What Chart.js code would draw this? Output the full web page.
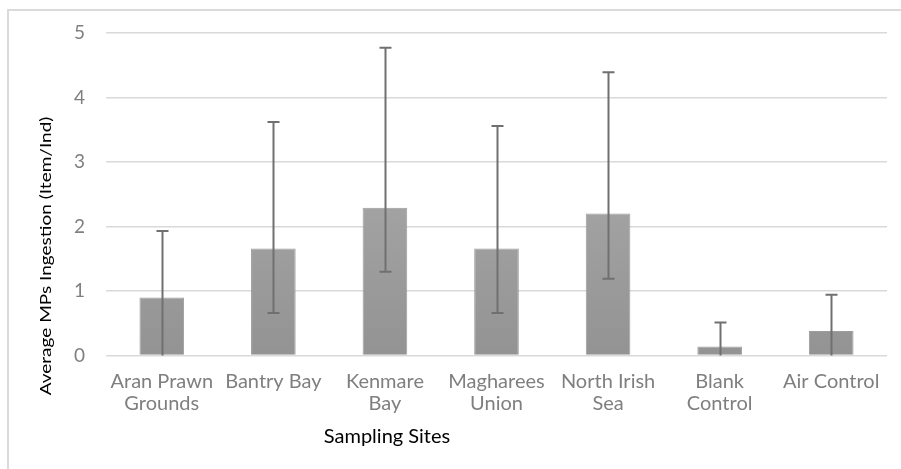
<!DOCTYPE html>
<html>
<head>
<meta charset="utf-8">
<script src="https://cdn.jsdelivr.net/npm/chart.js@4.4.1/dist/chart.umd.min.js"></script>
<style>
  html, body { margin: 0; padding: 0; background: #fff; }
  #wrap { position: relative; width: 901px; height: 469px; overflow: hidden; }
  #frame { position: absolute; left: 7px; top: 9px; right: -5px; bottom: -5px;
           border-left: 2px solid #dadada; border-top: 2px solid #dadada; }
  canvas { position: absolute; left: 0; top: 0; }
</style>
</head>
<body>
<div id="wrap">
  <div id="frame"></div>
  <canvas id="mpChart" width="901" height="469"></canvas>
</div>
<script>
// Sampling sites and mean ingestion values
const sites = [
  ['Aran Prawn', 'Grounds'],
  'Bantry Bay',
  ['Kenmare', 'Bay'],
  ['Magharees', 'Union'],
  ['North Irish', 'Sea'],
  ['Blank', 'Control'],
  'Air Control'
];
const meanMPs = [0.90, 1.66, 2.29, 1.66, 2.20, 0.14, 0.38];
// error bar ends (upper / lower), lower ones below zero get clipped at the axis
const errUpper = [1.93, 3.62, 4.77, 3.56, 4.39, 0.51, 0.94];
const errLower = [-0.10, 0.66, 1.30, 0.66, 1.19, -0.86, -0.62];
const yTicks = [0, 1, 2, 3, 4, 5];

const labelFont = "Lato, 'Open Sans', sans-serif";

// error bars drawn through the y scale
const errorBars = {
  id: 'errorBars',
  afterDatasetsDraw(chart) {
    const { ctx, scales: { y } } = chart;
    const meta = chart.getDatasetMeta(0);
    ctx.save();
    ctx.strokeStyle = '#707070';
    ctx.lineWidth = 2;
    meta.data.forEach((bar, i) => {
      const x = Math.round(bar.x) + 0.5;
      const top = y.getPixelForValue(errUpper[i]);
      const low = y.getPixelForValue(Math.max(errLower[i], y.min));
      ctx.beginPath();
      ctx.moveTo(x, top);
      ctx.lineTo(x, low);
      ctx.moveTo(x - 6, top);
      ctx.lineTo(x + 6, top);
      if (errLower[i] > y.min) {
        ctx.moveTo(x - 6, low);
        ctx.lineTo(x + 6, low);
      }
      ctx.stroke();
    });
    ctx.restore();
  }
};

// axis titles, placed like the original (not centred on the plot)
const axisTitles = {
  id: 'axisTitles',
  afterDraw(chart) {
    const { ctx, chartArea } = chart;
    ctx.save();
    ctx.fillStyle = '#000';
    ctx.textAlign = 'center';
    ctx.textBaseline = 'middle';
    ctx.font = '20px ' + labelFont;
    ctx.fillText('Sampling Sites', chartArea.left + 281, 437);

    ctx.translate(46, 256);
    ctx.scale(0.85, 1);
    ctx.rotate(-Math.PI / 2);
    ctx.font = '19px ' + labelFont;
    ctx.fillText('Average MPs Ingestion (Item/Ind)', 0, 0);
    ctx.restore();
  }
};

function initializeMPChart() {
  const ctx = document.getElementById('mpChart');
  if (!ctx) return;

  new Chart(ctx, {
    type: 'bar',
    data: {
      labels: sites,
      datasets: [{
        label: 'Average MPs Ingestion',
        data: meanMPs,
        backgroundColor: (c) => {
          const area = c.chart.chartArea;
          if (!area) return '#a0a0a0';
          const g = c.chart.ctx.createLinearGradient(0, area.top, 0, area.bottom);
          g.addColorStop(0, '#b4b4b4');
          g.addColorStop(1, '#939393');
          return g;
        },
        borderColor: '#9c9c9c',
        borderWidth: 1,
        barPercentage: 0.4,
        categoryPercentage: 1
      }]
    },
    options: {
      responsive: false,
      animation: false,
      devicePixelRatio: 1,
      layout: {
        padding: { left: 7, top: 33, right: 14, bottom: 0 }
      },
      plugins: {
        legend: { display: false },
        tooltip: { enabled: false }
      },
      scales: {
        x: {
          grid: { display: false, drawTicks: false },
          border: { display: false },
          ticks: {
            color: '#7f7f7f',
            font: { family: labelFont, size: 20, lineHeight: 1.1 },
            padding: 15,
            maxRotation: 0,
            autoSkip: false
          },
          afterFit: (scale) => { scale.height = 113.5; }
        },
        y: {
          min: 0,
          max: 5,
          afterBuildTicks: (scale) => {
            scale.ticks = yTicks.map(v => ({ value: v }));
          },
          grid: { color: '#d9d9d9', lineWidth: 1.5, drawTicks: false },
          border: { display: false },
          ticks: {
            color: '#7f7f7f',
            font: { family: labelFont, size: 19 },
            padding: 21
          },
          afterFit: (scale) => { scale.width = 99; }
        }
      }
    },
    plugins: [errorBars, axisTitles]
  });
}

document.addEventListener('DOMContentLoaded', () => {
  initializeMPChart();
});
</script>
</body>
</html>
